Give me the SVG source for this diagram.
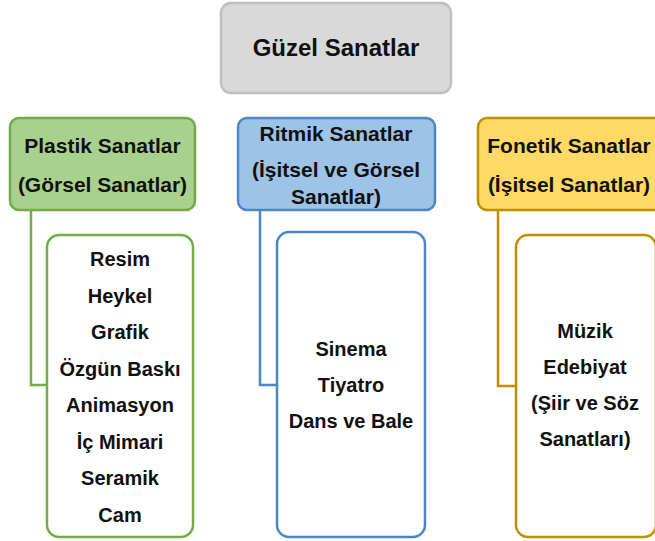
<svg xmlns="http://www.w3.org/2000/svg" width="655" height="541" viewBox="0 0 655 541">
<style>
text{font-family:"Liberation Sans",Arial,sans-serif;font-weight:bold;fill:#111;text-anchor:middle}
.h{font-size:21px}
.i{font-size:20px}
.t{font-size:24px}
.g{fill:#a9d18e;stroke:#70ad47;stroke-width:2.5}
.gc{fill:#ffffff;stroke:#70ad47;stroke-width:2.5}
.b{fill:#9dc3e6;stroke:#4a86c8;stroke-width:2.5}
.bc{fill:#ffffff;stroke:#4a86c8;stroke-width:2.5}
.y{fill:#ffd966;stroke:#bf9000;stroke-width:2.5}
.yc{fill:#ffffff;stroke:#bf9000;stroke-width:2.5}
.c{fill:none;stroke-width:2.5}
</style>
<rect width="655" height="541" fill="#ffffff"/>
<g id="connectors">
<polyline class="c" stroke="#70ad47" points="31,210 31,385 47,385"/>
<polyline class="c" stroke="#4a86c8" points="260,210 260,385 277,385"/>
<polyline class="c" stroke="#bf9000" points="498,210 498,386 516,386"/>
</g>
<g id="guzel-sanatlar">
<rect x="221" y="3" width="230" height="90" rx="10" fill="#d9d9d9" stroke="#bfbfbf" stroke-width="2.5"/>
<text class="t" x="336" y="56">Güzel Sanatlar</text>
</g>
<g id="plastik">
<rect class="g" x="10" y="118" width="185" height="92" rx="9"/>
<text class="h" x="102.5" y="153">Plastik Sanatlar</text>
<text class="h" x="102.5" y="192">(Görsel Sanatlar)</text>
</g>
<g id="plastik-items">
<rect class="gc" x="47" y="235" width="146" height="302" rx="12"/>
<text class="i" x="120" y="266">Resim</text>
<text class="i" x="120" y="302.5">Heykel</text>
<text class="i" x="120" y="339">Grafik</text>
<text class="i" x="120" y="375.5">Özgün Baskı</text>
<text class="i" x="120" y="412">Animasyon</text>
<text class="i" x="120" y="448.5">İç Mimari</text>
<text class="i" x="120" y="485">Seramik</text>
<text class="i" x="120" y="521.5">Cam</text>
</g>
<g id="ritmik">
<rect class="b" x="238" y="118" width="197" height="92" rx="9"/>
<text class="h" x="336" y="141">Ritmik Sanatlar</text>
<text class="h" x="336" y="177">(İşitsel ve Görsel</text>
<text class="h" x="336" y="204">Sanatlar)</text>
</g>
<g id="ritmik-items">
<rect class="bc" x="277" y="232" width="148" height="305" rx="12"/>
<text class="i" x="351" y="356">Sinema</text>
<text class="i" x="351" y="392">Tiyatro</text>
<text class="i" x="351" y="428">Dans ve Bale</text>
</g>
<g id="fonetik">
<rect class="y" x="478" y="118" width="186" height="92" rx="9"/>
<text class="h" x="569" y="153">Fonetik Sanatlar</text>
<text class="h" x="569" y="192">(İşitsel Sanatlar)</text>
</g>
<g id="fonetik-items">
<rect class="yc" x="516" y="235" width="140" height="302" rx="12"/>
<text class="i" x="585" y="338">Müzik</text>
<text class="i" x="585" y="374">Edebiyat</text>
<text class="i" x="585" y="410">(Şiir ve Söz</text>
<text class="i" x="585" y="446">Sanatları)</text>
</g>
</svg>
